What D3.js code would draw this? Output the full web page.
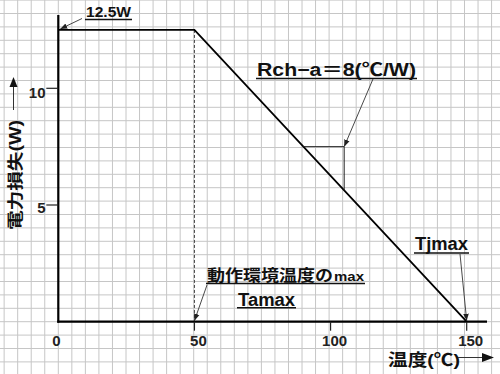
<!DOCTYPE html>
<html>
<head>
<meta charset="utf-8">
<script src="https://cdn.jsdelivr.net/npm/d3@7"></script>
<style>
  body { margin: 0; background: #fff; }
  svg { display: block; }
  text { font-family: "Liberation Sans", "Noto Sans CJK JP", sans-serif; font-weight: bold; fill: #111; }
</style>
</head>
<body>
<svg id="chart" width="500" height="374"></svg>
<script>
// derating curve
const temps = [0, 50, 150];
const power = [12.5, 12.5, 0];
const xTicks = [0, 50, 100, 150];
const yTicks = [5, 10];
// small triangle showing the slope
const triT = [90, 105, 105];
const triP = [7.5, 7.5, 5.625];

const W = 500, H = 374;
const svg = d3.select("#chart");

const x = d3.scaleLinear().domain([0, 150]).range([58.3, 466.7]);
const y = d3.scaleLinear().domain([0, 10]).range([321.7, 88.3]);

// background grid (section paper)
const grid = svg.append("g").attr("stroke", "#c6c6c6").attr("stroke-width", 1);
const gx = 13.54, gy = 13.4;
for (let k = -5; k < 40; k++) {
  const px = x(0) + k * gx;
  if (px >= 0 && px <= W) grid.append("line").attr("x1", px).attr("x2", px).attr("y1", 0).attr("y2", H);
}
for (let k = -5; k < 30; k++) {
  const py = y(0) - k * gy;
  if (py >= 0 && py <= H) grid.append("line").attr("y1", py).attr("y2", py).attr("x1", 0).attr("x2", W);
}

// arrow marker
const defs = svg.append("defs");
defs.append("marker")
  .attr("id", "arr")
  .attr("viewBox", "0 0 10 10")
  .attr("refX", 10).attr("refY", 5)
  .attr("markerWidth", 7).attr("markerHeight", 7)
  .attr("markerUnits", "userSpaceOnUse")
  .attr("orient", "auto")
  .append("path").attr("d", "M0,1 L10,5 L0,9 Z").attr("fill", "#222");

// dashed line at Tamax
svg.append("line")
  .attr("x1", x(50)).attr("x2", x(50))
  .attr("y1", y(12.5)).attr("y2", y(0))
  .attr("stroke", "#444").attr("stroke-width", 1)
  .attr("stroke-dasharray", "3,2");

// axes
svg.append("line").attr("x1", x(0)).attr("x2", x(0)).attr("y1", 15).attr("y2", y(0) + 1)
  .attr("stroke", "#000").attr("stroke-width", 2.2);
svg.append("line").attr("x1", x(0) - 1).attr("x2", 487).attr("y1", y(0)).attr("y2", y(0))
  .attr("stroke", "#000").attr("stroke-width", 2.2);

// x ticks
svg.selectAll(".xt").data(xTicks.filter(d => d > 0)).enter().append("line")
  .attr("x1", d => x(d)).attr("x2", d => x(d))
  .attr("y1", y(0)).attr("y2", y(0) + 9)
  .attr("stroke", "#222").attr("stroke-width", 1.2);
svg.selectAll(".xl").data(xTicks).enter().append("text")
  .attr("x", d => x(d) + (d === 0 ? -2 : 4))
  .attr("y", 346)
  .attr("text-anchor", "middle")
  .style("font-size", "15px")
  .style("fill", "#222")
  .text(d => d);

// y ticks
svg.selectAll(".yt").data(yTicks).enter().append("line")
  .attr("x1", x(0) - 12).attr("x2", x(0))
  .attr("y1", d => y(d)).attr("y2", d => y(d))
  .attr("stroke", "#222").attr("stroke-width", 1.2);
svg.selectAll(".yl").data(yTicks).enter().append("text")
  .attr("x", 45.5)
  .attr("y", d => y(d) + (d === 10 ? 9.5 : 7.5))
  .attr("text-anchor", "end")
  .style("font-size", "15px")
  .style("fill", "#222")
  .text(d => d);

// curve
const line = d3.line().x(d => x(d[0])).y(d => y(d[1]));
svg.append("path")
  .datum(temps.map((t, i) => [t, power[i]]))
  .attr("d", line)
  .attr("fill", "none").attr("stroke", "#000").attr("stroke-width", 1.8);

// slope triangle
svg.append("path")
  .datum(triT.map((t, i) => [t, triP[i]]))
  .attr("d", line)
  .attr("fill", "none").attr("stroke", "#222").attr("stroke-width", 1);

// annotation helper: text + underline + arrow
function label(str, tx, ty, size, len, under) {
  svg.append("text")
    .attr("x", tx).attr("y", ty)
    .attr("textLength", len).attr("lengthAdjust", "spacingAndGlyphs")
    .style("font-size", size + "px")
    .text(str);
  if (under) {
    svg.append("line")
      .attr("x1", tx - 1).attr("x2", tx + len + 1)
      .attr("y1", ty + under).attr("y2", ty + under)
      .attr("stroke", "#111").attr("stroke-width", 1.5);
  }
}
function arrow(x1, y1, x2, y2) {
  svg.append("line")
    .attr("x1", x1).attr("y1", y1).attr("x2", x2).attr("y2", y2)
    .attr("stroke", "#333").attr("stroke-width", 0.9)
    .attr("marker-end", "url(#arr)");
}

label("12.5W", 86, 17, 15, 45, 2.5);
arrow(82, 18.5, x(0) + 2, y(12.5) - 1);

label("Rch−a＝8(℃/W)", 257, 76, 18, 159, 2.5);
arrow(373, 79, x(105), y(7.5));

label("動作環境温度の", 207, 281, 16, 126, 0);
label("max", 334, 281, 13, 30, 0);
svg.append("line").attr("x1", 206).attr("x2", 365).attr("y1", 283.5).attr("y2", 283.5)
  .attr("stroke", "#111").attr("stroke-width", 1.5);
arrow(207, 285, x(50), y(0) - 1);

label("Tamax", 238, 305.5, 18, 57, 2.2);

label("Tjmax", 415, 250, 18, 53, 3);
arrow(460, 254, x(150), y(0) - 1);

// y axis title
svg.append("text")
  .attr("transform", "translate(21,230) rotate(-90)")
  .attr("textLength", 110).attr("lengthAdjust", "spacingAndGlyphs")
  .style("font-size", "16px")
  .text("電力損失(W)");
svg.append("line").attr("x1", 13.5).attr("x2", 13.5).attr("y1", 110).attr("y2", 85)
  .attr("stroke", "#333").attr("stroke-width", 1);
svg.append("path").attr("d", "M9.5,87 L13.5,77 L17.5,87 Z").attr("fill", "#111");

// x axis title
svg.append("text")
  .attr("x", 388).attr("y", 366)
  .attr("textLength", 72).attr("lengthAdjust", "spacingAndGlyphs")
  .style("font-size", "17px")
  .text("温度(℃)");
svg.append("line").attr("x1", 458).attr("x2", 484).attr("y1", 357.5).attr("y2", 357.5)
  .attr("stroke", "#333").attr("stroke-width", 1);
svg.append("path").attr("d", "M482,353 L494,357.5 L482,362 Z").attr("fill", "#111");
</script>
</body>
</html>
